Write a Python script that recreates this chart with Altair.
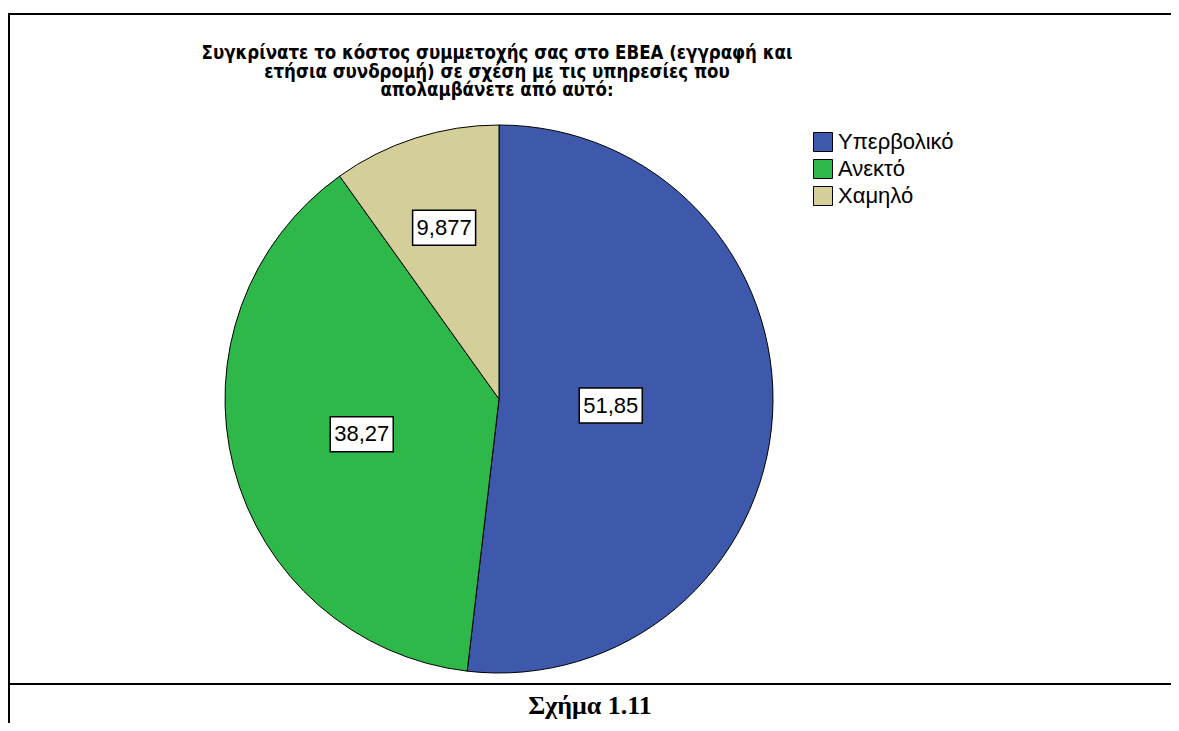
import altair as alt
import pandas as pd
import numpy as np

# ---- data ----
categories = ["Υπερβολικό", "Ανεκτό", "Χαμηλό"]
values = [51.85, 38.27, 9.877]
colors = ["#3E58AB", "#2EB84A", "#D4CF98"]
title_lines = [
    "Συγκρίνατε το κόστος συμμετοχής σας στο ΕΒΕΑ (εγγραφή και",
    "ετήσια συνδρομή) σε σχέση με τις υπηρεσίες που",
    "απολαμβάνετε από αυτό:",
]
caption = "Σχήμα 1.11"

# ---- layout constants ----
W, H = 1163, 715
CX, CY, R = 491, 391, 274

df = pd.DataFrame({"cat": categories, "value": values, "idx": list(range(len(values)))})
df["label"] = [f"{v:g}".replace(".", ",") for v in values]
total = df["value"].sum()
start = df["value"].cumsum() - df["value"]
mid = (start + df["value"] / 2) / total * 2 * np.pi
alpha = df["value"] / total * np.pi
rc = 2 * R * np.sin(alpha) / (3 * alpha)
df["px"] = CX + rc * np.sin(mid)
df["py"] = CY - rc * np.cos(mid)
bw = 12.6 * df["label"].str.len()
df["x0"] = df["px"] - bw / 2
df["x1"] = df["px"] + bw / 2
df["y0"] = df["py"] - 17.5
df["y1"] = df["py"] + 17.5

one = pd.DataFrame({"k": [0]})

pie = alt.Chart(df).mark_arc(radius=R, stroke="black", strokeWidth=1).encode(
    theta=alt.Theta("value:Q", stack=True),
    color=alt.Color(
        "cat:N",
        scale=alt.Scale(domain=categories, range=colors),
        legend=alt.Legend(
            title=None, orient="none", legendX=804, legendY=123,
            symbolType="square", symbolSize=361, symbolStrokeColor="black",
            symbolStrokeWidth=1, symbolOpacity=1,
            labelFont="Liberation Sans", labelFontSize=22, labelColor="black",
            rowPadding=3, labelOffset=4,
        ),
    ),
    order=alt.Order("idx:Q"),
    x=alt.value(CX),
    y=alt.value(CY),
)

boxes = alt.Chart(df).mark_rect(fill="white", stroke="black", strokeWidth=1.5).encode(
    x=alt.X("x0:Q", scale=None, axis=None),
    x2="x1:Q",
    y=alt.Y("y0:Q", scale=None, axis=None),
    y2="y1:Q",
)

labels = alt.Chart(df).mark_text(
    font="Liberation Sans", fontSize=22, color="black", align="center", baseline="middle"
).encode(
    x=alt.X("px:Q", scale=None, axis=None),
    y=alt.Y("py:Q", scale=None, axis=None),
    text="label:N",
)

title = alt.Chart(one).mark_text(
    font="DejaVu Sans Condensed, DejaVu Sans, sans-serif", fontSize=18.5, fontWeight="bold",
    color="black", align="center", baseline="middle", lineHeight=18.5,
).encode(x=alt.value(489), y=alt.value(45), text=alt.value(title_lines))

cap = alt.Chart(one).mark_text(
    font="Liberation Serif", fontSize=26, fontWeight="bold", color="black",
    align="center", baseline="middle",
).encode(x=alt.value(582), y=alt.value(698), text=alt.value(caption))

top_rule = alt.Chart(one).mark_rule(color="black", strokeWidth=2).encode(
    x=alt.value(0), x2=alt.value(W), y=alt.value(6))
left_rule = alt.Chart(one).mark_rule(color="black", strokeWidth=2).encode(
    x=alt.value(1), y=alt.value(5), y2=alt.value(H))
mid_rule = alt.Chart(one).mark_rule(color="black", strokeWidth=2).encode(
    x=alt.value(0), x2=alt.value(W), y=alt.value(676))

chart = alt.layer(
    pie, boxes, labels, title, cap, top_rule, left_rule, mid_rule
).properties(
    width=W, height=H, padding=0, autosize=alt.AutoSizeParams(type="none"),
    background="white",
).configure_view(stroke=None)

chart.save("out.html", embed_options={"renderer": "svg", "actions": False})
